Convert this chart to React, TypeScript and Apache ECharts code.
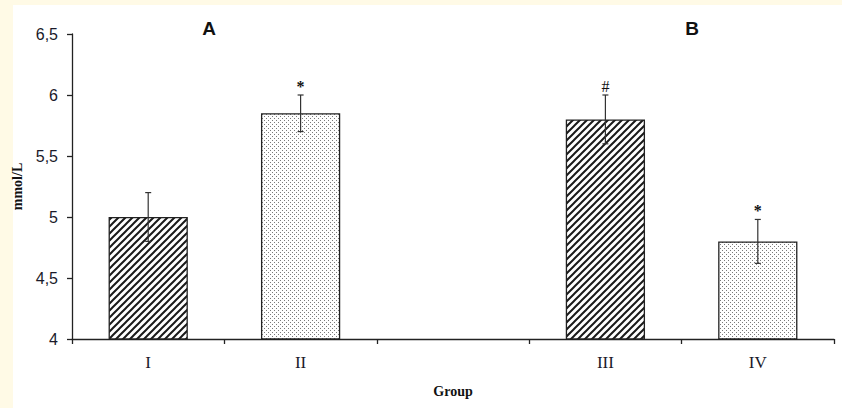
import React, { useEffect, useRef } from 'react';
import * as echarts from 'echarts';

const categories = ['I', 'II', '', 'III', 'IV'];
const means: (number | null)[] = [5.0, 5.85, null, 5.8, 4.8];
const errs: (number | null)[] = [0.2, 0.15, null, 0.2, 0.18];
const marks = ['', '*', '', '#', '*'];
const fills = ['hatch', 'dots', '', 'hatch', 'dots'];
const yMin = 4;
const yMax = 6.5;
const yStep = 0.5;
const panelLabels = [
  { text: 'A', x: 209, y: 28 },
  { text: 'B', x: 692, y: 28 },
];

const CREAM = '#fffae6';

function hatchPattern() {
  const s = 7;
  const c = document.createElement('canvas');
  c.width = s;
  c.height = s;
  const ctx = c.getContext('2d')!;
  ctx.fillStyle = '#ffffff';
  ctx.fillRect(0, 0, s, s);
  ctx.strokeStyle = '#1a1a1a';
  ctx.lineWidth = 2.0;
  ctx.beginPath();
  ctx.moveTo(0, s); ctx.lineTo(s, 0);
  ctx.moveTo(-s, s); ctx.lineTo(s, -s);
  ctx.moveTo(0, 2 * s); ctx.lineTo(2 * s, 0);
  ctx.stroke();
  return { image: c.toDataURL(), repeat: 'repeat', imageWidth: s, imageHeight: s };
}

function dotPattern() {
  const s = 4;
  const c = document.createElement('canvas');
  c.width = s;
  c.height = s;
  const ctx = c.getContext('2d')!;
  ctx.fillStyle = '#ffffff';
  ctx.fillRect(0, 0, s, s);
  ctx.fillStyle = '#7a7a7a';
  ctx.fillRect(0, 0, 1, 1);
  ctx.fillRect(2, 2, 1, 1);
  return { image: c.toDataURL(), repeat: 'repeat', imageWidth: s, imageHeight: s };
}

export default function App() {
  const ref = useRef<HTMLDivElement>(null);
  useEffect(() => {
    document.body.style.margin = '0';
    const chart = echarts.init(ref.current!, null, { renderer: 'svg' });
    const hatch = hatchPattern();
    const dots = dotPattern();
    const barData = means.map((m, i) =>
      m == null
        ? null
        : {
            value: m,
            itemStyle: {
              color: fills[i] === 'hatch' ? hatch : dots,
              borderColor: '#222',
              borderWidth: 1.3,
            },
          }
    );
    const errData: number[][] = [];
    means.forEach((m, i) => {
      if (m != null && errs[i] != null) errData.push([i, m, errs[i] as number]);
    });

    chart.setOption({
      animation: false,
      backgroundColor: '#ffffff',
      grid: { left: 72, right: 8, top: 34, bottom: 69 },
      xAxis: {
        type: 'category',
        data: categories,
        name: 'Group',
        nameLocation: 'middle',
        nameGap: 45,
        nameTextStyle: { fontFamily: 'Liberation Serif', fontWeight: 'bold', fontSize: 14, color: '#111' },
        axisLine: { lineStyle: { color: '#222', width: 1.3 } },
        axisTick: { show: true, length: 5, lineStyle: { color: '#222', width: 1.3 } },
        axisLabel: { fontFamily: 'Liberation Serif', fontSize: 17, color: '#1a1a2a', margin: 15 },
      },
      yAxis: {
        type: 'value',
        min: yMin,
        max: yMax,
        interval: yStep,
        name: 'mmol/L',
        nameLocation: 'middle',
        nameGap: 47,
        nameRotate: 90,
        nameTextStyle: { fontFamily: 'Liberation Serif', fontWeight: 'bold', fontSize: 14, color: '#111' },
        splitLine: { show: false },
        axisLine: { show: true, lineStyle: { color: '#222', width: 1.3 } },
        axisTick: { show: true, length: 5, lineStyle: { color: '#222', width: 1.3 } },
        axisLabel: {
          fontFamily: 'Liberation Sans',
          fontSize: 16,
          color: '#1a1a2a',
          margin: 14,
          formatter: (v: number) => String(v).replace('.', ','),
        },
      },
      graphic: [
        { type: 'rect', left: 0, top: 0, shape: { width: 13, height: 408 }, style: { fill: CREAM }, silent: true },
        { type: 'rect', left: 0, top: 0, shape: { width: 842, height: 5 }, style: { fill: CREAM }, silent: true },
        ...panelLabels.map((p) => ({
          type: 'text',
          x: p.x,
          y: p.y,
          style: {
            text: p.text,
            fontFamily: 'Liberation Sans',
            fontWeight: 'bold',
            fontSize: 19,
            fill: '#111',
            textAlign: 'center',
            textVerticalAlign: 'middle',
          },
        })),
      ],
      series: [
        {
          type: 'bar',
          data: barData,
          barWidth: '52%',
          z: 2,
        },
        {
          type: 'custom',
          data: errData,
          z: 5,
          renderItem: (params: any, api: any) => {
            const idx = api.value(0);
            const m = api.value(1);
            const e = api.value(2);
            const top = api.coord([idx, m + e]);
            const bot = api.coord([idx, m - e]);
            const x = top[0];
            const cap = 3;
            const ls = { stroke: '#333', lineWidth: 1.2 };
            const children: any[] = [
              { type: 'line', shape: { x1: x, y1: top[1], x2: x, y2: bot[1] }, style: ls },
              { type: 'line', shape: { x1: x - cap, y1: top[1], x2: x + cap, y2: top[1] }, style: ls },
              { type: 'line', shape: { x1: x - cap, y1: bot[1], x2: x + cap, y2: bot[1] }, style: ls },
            ];
            const mk = marks[idx];
            if (mk) {
              children.push({
                type: 'text',
                x: x,
                y: top[1] - 9,
                style: {
                  text: mk,
                  fontFamily: 'Liberation Serif',
                  fontSize: 16,
                  fontWeight: mk === '*' ? 'bold' : 'normal',
                  fill: '#111',
                  textAlign: 'center',
                  textVerticalAlign: 'middle',
                },
              });
            }
            return { type: 'group', children };
          },
        },
      ],
    });
    return () => chart.dispose();
  }, []);
  return <div ref={ref} style={{ position: 'fixed', left: 0, top: 0, width: 842, height: 408 }} />;
}
